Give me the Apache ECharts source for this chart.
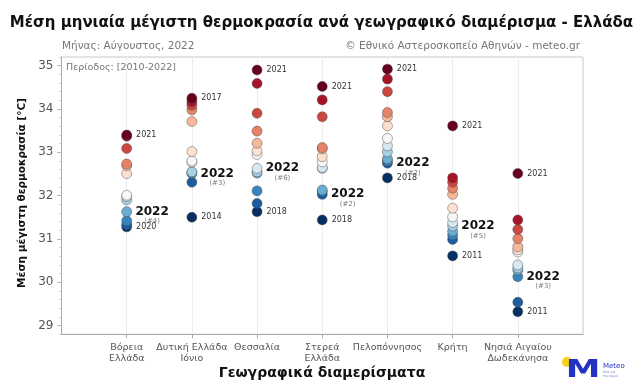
<!DOCTYPE html>
<html>
<head>
<meta charset="utf-8">
<script src="https://cdn.jsdelivr.net/npm/echarts@6/dist/echarts.min.js"></script>
<style>html,body{margin:0;padding:0;background:#fff}#c{width:643px;height:391px}</style>
</head>
<body>
<div id="c"></div>
<script>
// Regions (x-axis categories)
const categories = ['Βόρεια\nΕλλάδα', 'Δυτική Ελλάδα\nΙόνιο', 'Θεσσαλία', 'Στερεά\nΕλλάδα', 'Πελοπόννησος', 'Κρήτη', 'Νησιά Αιγαίου\nΔωδεκάνησα'];
// Mean monthly max temperature, August 2010-2022 (13 values per region, high to low)
const voreiaEllada   = [33.40, 33.37, 33.09, 32.73, 32.69, 32.51, 32.01, 31.98, 31.90, 31.63, 31.42, 31.33, 31.28];
const dytikiEllada   = [34.25, 34.17, 34.09, 33.98, 33.71, 33.02, 32.80, 32.77, 32.55, 32.53, 32.51, 32.31, 31.50];
const thessalia      = [34.90, 34.59, 33.90, 33.49, 33.21, 33.03, 32.95, 32.63, 32.55, 32.52, 32.11, 31.82, 31.63];
const stereaEllada   = [34.52, 34.21, 33.82, 33.11, 33.08, 32.90, 32.78, 32.65, 32.63, 32.13, 32.10, 32.03, 31.44];
const peloponnisos   = [34.92, 34.69, 34.40, 33.92, 33.82, 33.61, 33.32, 33.15, 33.01, 32.85, 32.80, 32.75, 32.41];
const kriti          = [33.61, 32.41, 32.31, 32.17, 32.03, 31.71, 31.51, 31.38, 31.30, 31.18, 31.09, 30.99, 30.61];
const nisiaAigaiou   = [32.51, 31.44, 31.22, 31.01, 30.82, 30.75, 30.70, 30.40, 30.33, 30.28, 30.13, 29.54, 29.32];
const regionValues = [voreiaEllada, dytikiEllada, thessalia, stereaEllada, peloponnisos, kriti, nisiaAigaiou];
// 2022 value per region
const values2022 = [31.63, 32.51, 32.63, 32.03, 32.75, 31.30, 30.13];
// Year of the warmest / coolest August per region
const maxYears = ['2021', '2017', '2021', '2021', '2021', '2021', '2021'];
const minYears = ['2020', '2014', '2018', '2018', '2018', '2011', '2011'];
// Y tick labels
const yTicks = [29, 30, 31, 32, 33, 34, 35];

// RdBu (reversed ranking: warm = red)
const rdbu = ['#67001f','#b2182b','#d6604d','#f4a582','#fddbc7','#f7f7f7','#d1e5f0','#92c5de','#4393c3','#2166ac','#053061'];
function hex2rgb(h){return [parseInt(h.substr(1,2),16),parseInt(h.substr(3,2),16),parseInt(h.substr(5,2),16)];}
function cmap(t){
  const p = t*(rdbu.length-1); const i = Math.min(Math.floor(p), rdbu.length-2); const f = p-i;
  const a = hex2rgb(rdbu[i]), b = hex2rgb(rdbu[i+1]);
  return 'rgb('+a.map((v,k)=>Math.round(v+(b[k]-v)*f)).join(',')+')';
}

const data = [];
regionValues.forEach((vals, ci) => {
  const sortedDesc = vals.slice().sort((a,b)=>b-a);
  const n = sortedDesc.length;
  const asc = vals.slice().sort((a,b)=>a-b); // draw low first, high on top
  let used2022 = false;
  asc.forEach((v, j) => {
    const rankTop = sortedDesc.indexOf(v);
    const item = { value: [ci+1, v], itemStyle: { color: cmap(rankTop/(n-1)) } };
    if (j === n-1) {
      item.label = { show: true, position: 'right', distance: 4, formatter: maxYears[ci], fontSize: 8, color: '#333', fontFamily: 'DejaVu Sans' };
    } else if (j === 0) {
      item.label = { show: true, position: 'right', distance: 4, formatter: minYears[ci], fontSize: 8, color: '#333', fontFamily: 'DejaVu Sans' };
    }
    if (!used2022 && v === values2022[ci]) {
      used2022 = true;
      const rankLow = vals.filter(x => x <= v).length;
      item.label = {
        show: true, position: 'right', distance: 3, offset: [0, 4],
        formatter: '{a|2022}\n{b|(#' + rankLow + ')}',
        rich: {
          a: { fontSize: 12, fontWeight: 'bold', color: '#111', fontFamily: 'DejaVu Sans', width: 34, align: 'center', lineHeight: 12 },
          b: { fontSize: 7, color: '#777', fontFamily: 'DejaVu Sans', width: 34, align: 'center', lineHeight: 8 }
        }
      };
      item.z2 = 5;
    }
    data.push(item);
  });
});

const chart = echarts.init(document.getElementById('c'), null, { renderer: 'canvas' });
const axisGrey = '#aaaaaa';
chart.setOption({
  animation: false,
  backgroundColor: '#fff',
  textStyle: { fontFamily: 'DejaVu Sans' },
  grid: { left: 61.5, right: 60, top: 57, bottom: 56.7, show: true, borderColor: '#c8c8c8', borderWidth: 1 },
  xAxis: {
    type: 'value', min: 0, max: 8, interval: 1,
    axisLine: { show: true, lineStyle: { color: axisGrey } },
    axisTick: { show: true, length: 4, lineStyle: { color: axisGrey }, customValues: [1,2,3,4,5,6,7] },
    axisLabel: { customValues: [1,2,3,4,5,6,7], formatter: v => categories[v-1] || '', fontSize: 9.5, color: '#555', lineHeight: 11, margin: 8, fontFamily: 'DejaVu Sans' },
    splitLine: { show: true, lineStyle: { color: '#ececec', width: 1 } }
  },
  yAxis: [{
    type: 'value', min: 28.8, max: 35.2,
    axisLine: { show: true, lineStyle: { color: axisGrey } },
    axisTick: { show: true, length: 4, lineStyle: { color: axisGrey }, customValues: yTicks },
    axisLabel: { customValues: yTicks, fontSize: 12, color: '#555', margin: 8, fontFamily: 'DejaVu Sans' },
    splitLine: { show: false }
  }, {
    type: 'value', min: 28.8, max: 35.2, interval: 0.2, position: 'left', offset: 0,
    axisLine: { show: false },
    axisTick: { show: true, length: 2, lineStyle: { color: '#c0c0c0' } },
    axisLabel: { show: false },
    splitLine: { show: false }
  }],
  series: [{
    type: 'scatter', xAxisIndex: 0, yAxisIndex: 0,
    symbolSize: 10,
    itemStyle: { borderColor: 'rgba(70,70,70,0.55)', borderWidth: 0.8, opacity: 1 },
    data: data
  }],
  graphic: [
    { type: 'text', x: 321.5, y: 23, style: { text: 'Μέση μηνιαία μέγιστη θερμοκρασία ανά γεωγραφικό διαμέρισμα - Ελλάδα', font: 'bold 15px "DejaVu Sans"', fill: '#111', align: 'center', verticalAlign: 'middle' } },
    { type: 'text', x: 62, y: 46, style: { text: 'Μήνας: Αύγουστος, 2022', font: '10.5px "DejaVu Sans"', fill: '#777', align: 'left', verticalAlign: 'middle' } },
    { type: 'text', x: 580, y: 46, style: { text: '© Εθνικό Αστεροσκοπείο Αθηνών - meteo.gr', font: '10.5px "DejaVu Sans"', fill: '#777', align: 'right', verticalAlign: 'middle' } },
    { type: 'text', x: 66, y: 68, style: { text: 'Περίοδος: [2010-2022]', font: '9.5px "DejaVu Sans"', fill: '#777', align: 'left', verticalAlign: 'middle' } },
    { type: 'text', x: 22, y: 193, rotation: Math.PI/2, style: { text: 'Μέση μέγιστη θερμοκρασία [°C]', font: 'bold 10.5px "DejaVu Sans"', fill: '#111', align: 'center', verticalAlign: 'middle' } },
    { type: 'text', x: 322, y: 373, style: { text: 'Γεωγραφικά διαμερίσματα', font: 'bold 14px "DejaVu Sans"', fill: '#111', align: 'center', verticalAlign: 'middle' } },
    { type: 'circle', shape: { cx: 567, cy: 362, r: 5 }, style: { fill: '#f3d11a' } },
    { type: 'text', x: 583, y: 371, scaleX: 1.45, style: { text: 'M', font: 'bold 24px "DejaVu Sans"', fill: '#2233c4', align: 'center', verticalAlign: 'middle' } },
    { type: 'text', x: 603, y: 366, style: { text: 'Meteo', font: '7px "DejaVu Sans"', fill: '#2233c4', align: 'left', verticalAlign: 'middle' } },
    { type: 'text', x: 603, y: 374, style: { text: 'Όλα για\nτον καιρό', font: '3px "DejaVu Sans"', fill: '#6677cc', align: 'left', verticalAlign: 'middle', lineHeight: 3.5 } }
  ]
});
</script>
</body>
</html>
